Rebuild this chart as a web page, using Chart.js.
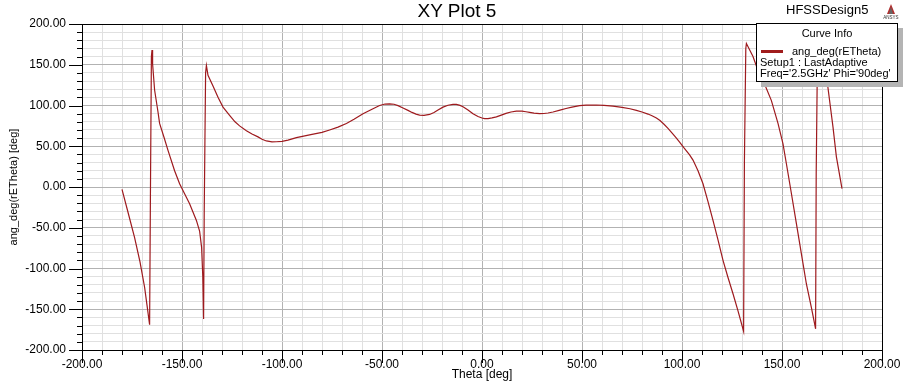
<!DOCTYPE html>
<html>
<head>
<meta charset="utf-8">
<script src="https://cdn.jsdelivr.net/npm/chart.js@4/dist/chart.umd.min.js"></script>
<style>
  html, body { margin:0; padding:0; background:#fff; }
  #wrap { position:relative; width:911px; height:382px; overflow:hidden; font-family:"Liberation Sans", Arial, sans-serif; }
  canvas { position:absolute; left:0; top:0; }
  .txt { position:absolute; white-space:nowrap; color:#000; }
  #title { left:0; width:911px; top:0; text-align:center; font-size:19px; line-height:22px; padding-left:3px; box-sizing:border-box; }
  #design { left:786px; top:2px; font-size:13px; line-height:16px; }
  #logo { position:absolute; left:882px; top:4px; width:18px; height:16px; }
  #legend { position:absolute; left:756px; top:23px; width:140px; height:57px; background:#fff; border:1px solid #000; box-shadow:5px 5px 0 #b4b4b4; font-size:11px; }
  #legend .hdr { position:absolute; left:0; width:140px; top:3px; text-align:center; line-height:13px; }
  #legend .row { position:absolute; left:3px; line-height:12px; }
  #legend .swatch { position:absolute; left:4px; top:26px; width:22px; height:3px; background:#a01c1c; }
</style>
</head>
<body>
<div id="wrap">
  <canvas id="c" width="911" height="382"></canvas>
  <div class="txt" id="title">XY Plot 5</div>
  <div class="txt" id="design">HFSSDesign5</div>
  <svg id="logo" viewBox="0 0 18 16"><polygon points="9,0 5,10 13,10" fill="#b03030"/><polygon points="9,3 7,10 11,10" fill="#666"/><text x="9" y="15" font-size="4.5" text-anchor="middle" font-family="Liberation Sans" fill="#333">ANSYS</text></svg>
  <div id="legend">
    <div class="hdr">Curve Info</div>
    <div class="swatch"></div>
    <div class="row" style="left:35px; top:21px;">ang_deg(rETheta)</div>
    <div class="row" style="top:32px;">Setup1 : LastAdaptive</div>
    <div class="row" style="top:43px;">Freq='2.5GHz' Phi='90deg'</div>
  </div>
</div>
<script>
const thetaDeg = [
  -180, -177, -173.7, -171, -168.7, -167.5, -166.2, -165.8, -165.3, -165,
  -164.7, -163.7, -162, -161.2, -159, -157, -153.7, -151.2, -146.2, -142.8,
  -141.2, -140.2, -139.6, -139.2, -138.9, -138.2, -137.8, -137, -134.5, -132,
  -129.5, -126.2, -123.5, -121.2, -117.8, -115, -112, -110, -107.8, -105,
  -102.8, -100, -97, -92.8, -88, -85, -80, -76.2, -72, -67.8,
  -64, -59.5, -55, -51.2, -48.5, -46.2, -44, -42, -39.5, -37,
  -35, -33, -31.2, -29, -26.2, -24, -22, -19.5, -17, -14.5,
  -12.8, -11, -9.5, -7, -4.5, -2, 0, 1.3, 3, 5,
  7.2, 10, 12, 14.5, 17.2, 20, 22, 23.8, 26, 28.8,
  31, 33, 35.5, 39, 42, 45, 48.8, 52, 57.2, 61,
  65.5, 70, 74, 77.2, 80, 83, 85, 87.2, 89, 91,
  93, 95.5, 97, 98.8, 101, 103.8, 105.5, 108, 110.5, 113,
  115.5, 118, 120.5, 123, 125.5, 128, 130.8, 131.2, 131.9, 132.2,
  135.5, 138, 140.5, 144.7, 148, 150.5, 152.2, 154.7, 157.2, 159.7,
  162.2, 164.7, 166.8, 167.1, 167.8, 170, 172.5, 175.5, 177.2, 180
];
const angDeg = [
  -3, -31, -62, -92, -123, -145, -169, -14, 160, 168,
  151, 119, 92, 78, 61, 45, 20, 4, -20.5, -41,
  -54, -74, -110, -162, -33, 140, 149, 137, 124, 110,
  98, 88, 80, 75, 69, 65, 61.5, 58.5, 56.5, 55.3,
  55.5, 56, 57.5, 60.5, 63, 64.5, 67, 70, 73.5, 78,
  83, 90, 95.5, 100, 101.8, 102, 101.5, 99.8, 97, 94,
  91.5, 89.5, 88.3, 88, 89, 91.5, 94.5, 98, 100.3, 101.3,
  101.3, 100.2, 98.5, 94.5, 90, 86.5, 84.7, 84, 84, 84.8,
  86, 88.5, 90.3, 92, 93, 93, 92.3, 91.6, 90.6, 90,
  90.2, 90.8, 92, 94.3, 96.3, 98, 99.8, 100.4, 100.6, 100.2,
  99.2, 97.8, 96, 94, 92, 89.5, 87.5, 84.6, 81.5, 77,
  72, 65, 60.5, 55, 48, 39.5, 33, 20, 4, -18,
  -41, -65, -90, -111, -131, -152, -177, 30, 170, 176,
  160, 143, 131, 106, 78, 53, 28.5, -8, -45, -82,
  -119, -148, -174, 16, 178, 158, 131, 73.5, 37, -2
];
const axisMin = -200, axisMax = 200, minorStep = 10, majorStep = 50;
const xAxisTitle = 'Theta [deg]';
const yAxisTitle = 'ang_deg(rETheta) [deg]';

const points = thetaDeg.map((t, i) => ({ x: t, y: angDeg[i] }));
const isMajor = v => Math.abs(Math.round(v) % majorStep) === 0;
const fmt = v => isMajor(v) ? Number(v).toFixed(2) : '';

const tickFramePlugin = {
  id: 'tickFrame',
  afterDraw(chart) {
    const { ctx, chartArea: a, scales: { x, y } } = chart;
    ctx.save();
    ctx.strokeStyle = '#000';
    ctx.lineWidth = 1;
    ctx.beginPath();
    for (let v = axisMin; v <= axisMax; v += minorStep) {
      const len = isMajor(v) ? 13 : 5;
      const py = Math.round(y.getPixelForValue(v)) + 0.5;
      ctx.moveTo(a.left - len, py); ctx.lineTo(a.left, py);
      const px = Math.round(x.getPixelForValue(v)) + 0.5;
      ctx.moveTo(px, a.bottom); ctx.lineTo(px, a.bottom + len);
    }
    ctx.stroke();
    ctx.strokeRect(Math.round(a.left) + 0.5, Math.round(a.top) + 0.5, Math.round(a.right - a.left), Math.round(a.bottom - a.top));
    ctx.restore();
  }
};

new Chart(document.getElementById('c'), {
  type: 'scatter',
  data: {
    datasets: [{
      label: 'ang_deg(rETheta)',
      data: points,
      showLine: true,
      borderColor: '#9e1a1e',
      borderWidth: 1.2,
      pointRadius: 0,
      tension: 0,
      fill: false
    }]
  },
  options: {
    responsive: false,
    animation: false,
    layout: { padding: { top: 24, right: 29, left: 0, bottom: 0 } },
    plugins: { legend: { display: false }, tooltip: { enabled: false } },
    scales: {
      x: {
        type: 'linear', min: axisMin, max: axisMax,
        afterFit: s => { s.height = 32; },
        border: { display: false },
        grid: {
          drawTicks: false,
          color: c => isMajor(c.tick.value) ? '#b2b2b2' : '#e0e0e0',
          lineWidth: 1
        },
        ticks: {
          stepSize: minorStep, maxTicksLimit: 100, autoSkip: false, maxRotation: 0,
          padding: 7, color: '#000',
          font: { family: 'Liberation Sans', size: 12 },
          callback: v => fmt(v)
        },
        title: { display: true, text: xAxisTitle, color: '#000', font: { family: 'Liberation Sans', size: 12 }, padding: { top: 0, bottom: 0 } }
      },
      y: {
        type: 'linear', min: axisMin, max: axisMax,
        afterFit: s => { s.width = 82; },
        border: { display: false },
        grid: {
          drawTicks: false,
          color: c => isMajor(c.tick.value) ? '#b2b2b2' : '#e0e0e0',
          lineWidth: 1
        },
        ticks: {
          stepSize: minorStep, maxTicksLimit: 100, autoSkip: false,
          padding: 16, color: '#000',
          font: { family: 'Liberation Sans', size: 12 },
          callback: v => fmt(v)
        },
        title: { display: true, text: yAxisTitle, color: '#000', font: { family: 'Liberation Sans', size: 11 }, padding: { top: 7, bottom: 0 } }
      }
    }
  },
  plugins: [tickFramePlugin]
});
</script>
</body>
</html>
